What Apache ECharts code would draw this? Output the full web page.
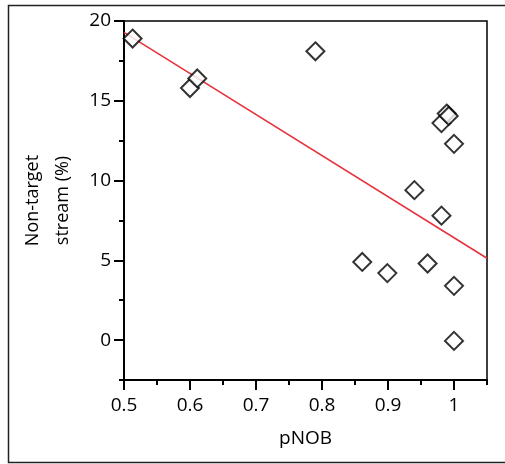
<!DOCTYPE html>
<html>
<head>
<meta charset="utf-8">
<script src="https://cdn.jsdelivr.net/npm/echarts@6/dist/echarts.min.js"></script>
<style>html,body{margin:0;padding:0;background:#fff;}#c{width:505px;height:464px;}</style>
</head>
<body>
<div id="c"></div>
<script>
var pnob      = [0.513, 0.600, 0.611, 0.790, 0.861, 0.899, 0.940, 0.960, 0.981, 0.981, 0.989, 0.992, 1.000, 1.000, 1.000];
var nonTarget = [18.9, 15.8, 16.4, 18.1, 4.9, 4.2, 9.4, 4.8, 7.8, 13.6, 14.2, 14.05, 12.3, 3.4, -0.05];
var fitX = [0.5, 1.05];
var fitY = [19.28, 5.13];
var xTicks = [0.5, 0.6, 0.7, 0.8, 0.9, 1.0];
var yTicks = [0, 5, 10, 15, 20];
var xName = 'pNOB';
var yName = 'Non-target\nstream (%)';

var FONT = 'Open Sans';
var chart = echarts.init(document.getElementById('c'), null, {renderer: 'canvas'});
var pts = pnob.map(function (x, i) { return [x, nonTarget[i]]; });
var fit = fitX.map(function (x, i) { return [x, fitY[i]]; });
var gpos = {left: 124, top: 21, right: 18, bottom: 84};
chart.setOption({
  animation: false,
  backgroundColor: '#fff',
  graphic: [{type: 'rect', shape: {x: 8.5, y: 5.5, width: 520, height: 457}, style: {fill: 'none', stroke: '#222', lineWidth: 1.5}, silent: true}],
  grid: [
    Object.assign({show: true, borderColor: '#000', borderWidth: 1.5, backgroundColor: 'transparent'}, gpos),
    Object.assign({show: false}, gpos)
  ],
  xAxis: [{
    gridIndex: 0, type: 'value', min: 0.5, max: 1.05, interval: 0.05, position: 'bottom',
    name: xName, nameLocation: 'middle', nameGap: 49,
    nameTextStyle: {fontFamily: FONT, fontSize: 19, color: '#000'},
    axisLine: {show: true, onZero: false, lineStyle: {color: '#000', width: 2}},
    axisTick: {show: true, length: 10, customValues: xTicks, lineStyle: {color: '#000', width: 2}},
    axisLabel: {customValues: xTicks, margin: 16, fontFamily: FONT, fontSize: 19, color: '#000',
      formatter: function (v) { return String(Math.round(v * 10) / 10); }},
    splitLine: {show: false}
  }, {
    gridIndex: 1, type: 'value', min: 0.5, max: 1.05, interval: 0.05, position: 'bottom',
    axisLine: {show: false, onZero: false}, axisLabel: {show: false}, splitLine: {show: false},
    axisTick: {show: true, length: 5, lineStyle: {color: '#000', width: 2}}
  }],
  yAxis: [{
    gridIndex: 0, type: 'value', min: -2.5, max: 20, interval: 2.5, position: 'left',
    name: yName, nameLocation: 'middle', nameGap: 38, nameRotate: 90,
    nameTextStyle: {fontFamily: FONT, fontSize: 18, color: '#000', lineHeight: 30, align: 'center'},
    axisLine: {show: true, onZero: false, lineStyle: {color: '#000', width: 2}},
    axisTick: {show: true, length: 10, customValues: yTicks, lineStyle: {color: '#000', width: 2}},
    axisLabel: {customValues: yTicks, margin: 13, fontFamily: FONT, fontSize: 19, color: '#000'},
    splitLine: {show: false}
  }, {
    gridIndex: 1, type: 'value', min: -2.5, max: 20, interval: 2.5, position: 'left',
    axisLine: {show: false, onZero: false}, axisLabel: {show: false}, splitLine: {show: false},
    axisTick: {show: true, length: 5, lineStyle: {color: '#000', width: 2}}
  }],
  series: [{
    type: 'line', xAxisIndex: 0, yAxisIndex: 0, data: fit, showSymbol: false, symbol: 'none',
    lineStyle: {color: '#e8303a', width: 1.5}, clip: true, z: 2
  }, {
    type: 'scatter', xAxisIndex: 0, yAxisIndex: 0, data: pts, symbol: 'diamond', symbolSize: 18,
    itemStyle: {color: '#fff', borderColor: '#000', borderWidth: 2}, z: 3
  }]
});
</script>
</body>
</html>
